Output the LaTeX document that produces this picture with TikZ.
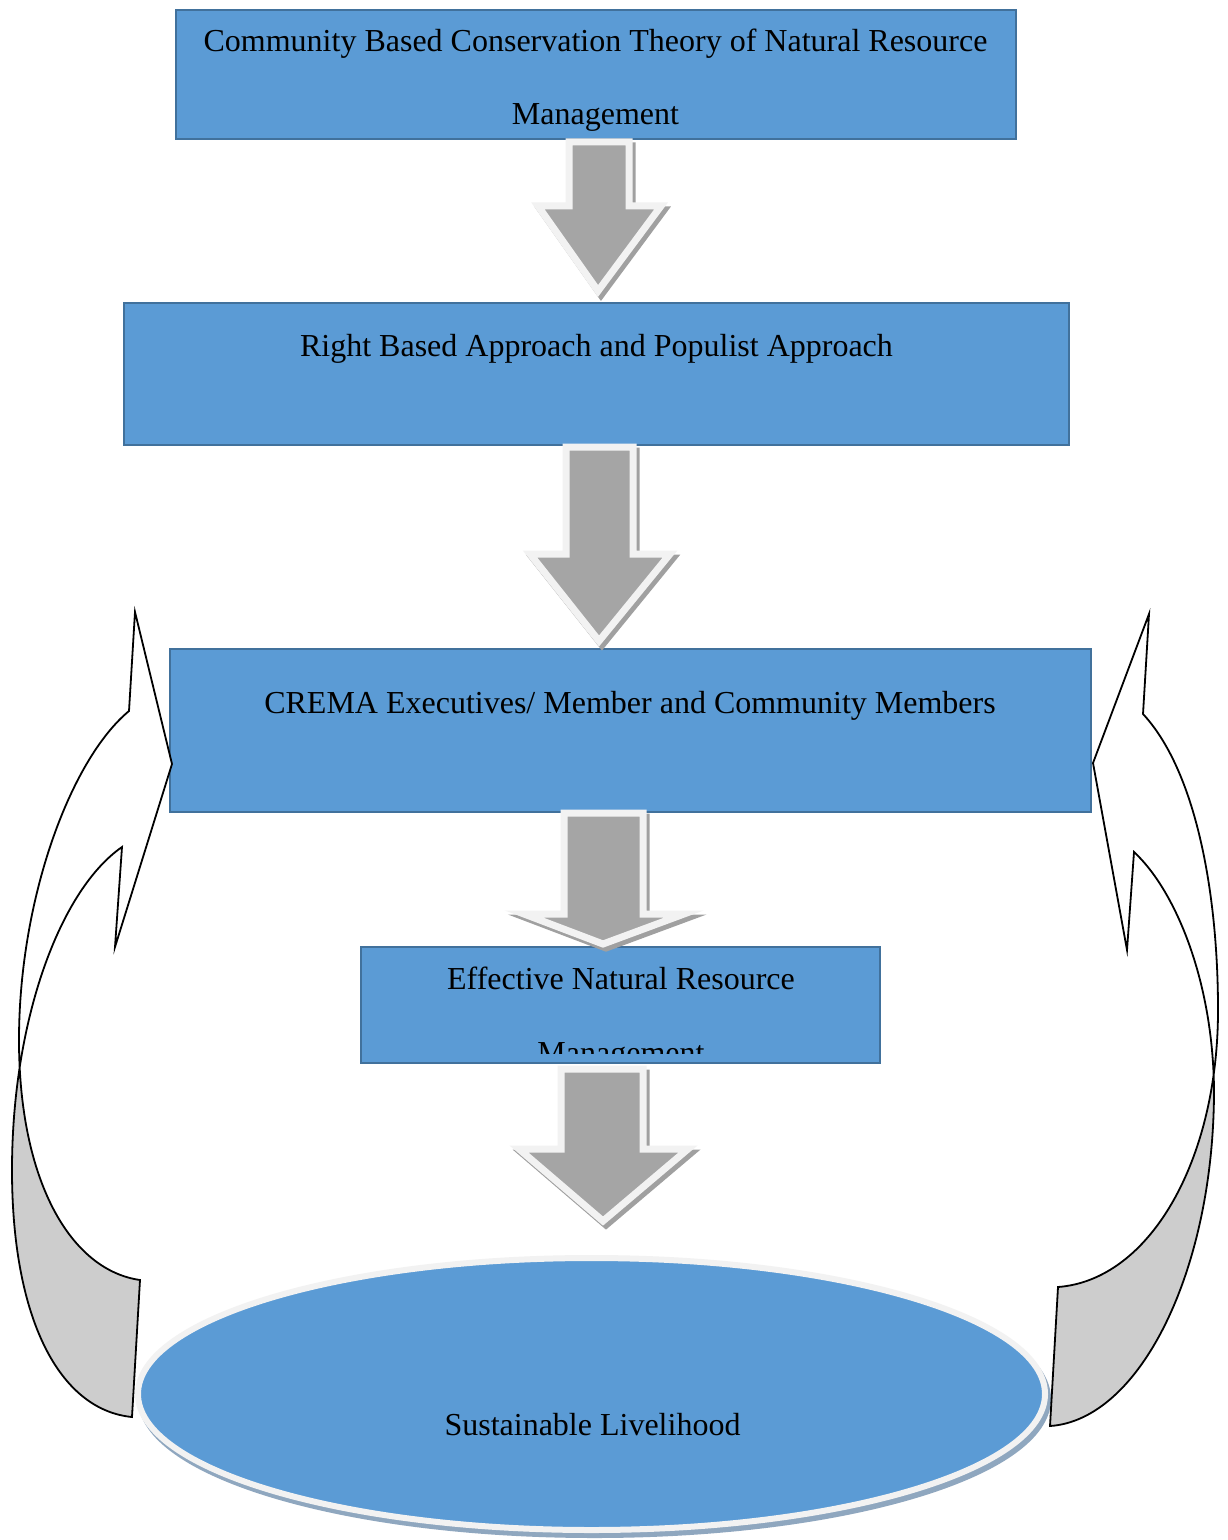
\documentclass[tikz,border=0pt]{standalone}
\usepackage{fontspec}
\setmainfont{Liberation Serif}
\definecolor{boxfill}{HTML}{5B9BD5}
\definecolor{boxline}{HTML}{41719C}
\definecolor{arrfill}{HTML}{A5A5A5}
\definecolor{arrline}{HTML}{F2F2F2}
\definecolor{arrshadow}{HTML}{A0A0A0}
\definecolor{ellshadow}{HTML}{8FA7BF}
\definecolor{curvegray}{HTML}{CDCDCD}
\newcommand\downblock[8]{%
  \path[arrshade,shift={(3,4)}] (#1,#3) -- (#2,#3) -- (#2,#4) -- (#6,#4) -- (#7,#8) -- (#5,#4) -- (#1,#4) -- cycle;
  \path[arrbody] (#1,#3) -- (#2,#3) -- (#2,#4) -- (#6,#4) -- (#7,#8) -- (#5,#4) -- (#1,#4) -- cycle;}
\newcommand\leftcurve[1]{%
  \path[#1] (129,711) .. controls (70,760) and (19,900) .. (19,1040)
    .. controls (19,1180) and (70,1270) .. (140,1280) -- (132,1417)
    .. controls (60,1410) and (12,1320) .. (12,1170)
    .. controls (12,1020) and (60,890) .. (122,847)
    -- (115,947) -- (172,764) -- (135,612) -- cycle;}
\newcommand\rightcurve[1]{%
  \path[#1] (1143,714) .. controls (1195,770) and (1218,890) .. (1218,1010)
    .. controls (1218,1160) and (1150,1280) .. (1058,1287) -- (1050,1426)
    .. controls (1140,1420) and (1214,1270) .. (1214,1090)
    .. controls (1213,980) and (1175,890) .. (1134,852)
    -- (1127,950) -- (1093,763) -- (1149,614) -- cycle;}
\begin{document}
\begin{tikzpicture}[x=0.5pt,y=-0.5pt,
  box/.style={fill=boxfill,draw=boxline,line width=1.2pt},
  txt/.style={font=\fontsize{16}{19}\selectfont,inner sep=0pt,anchor=base,text=black},
  arrshade/.style={fill=arrshadow,draw=arrshadow,line width=3.5pt,line join=miter},
  arrbody/.style={fill=arrfill,draw=arrline,line width=3.5pt,line join=miter},
  curveline/.style={draw=black,line width=0.9pt,line join=miter}]
\useasboundingbox (0,0) rectangle (1227,1540);
\fill[white] (0,0) rectangle (1227,1540);

% boxes
\path[box] (176,10) rectangle (1016,139);
\path[box] (124,303) rectangle (1069,445);
\path[box] (170,649) rectangle (1091,812);
\path[box] (361,947) rectangle (880,1063);

% ellipse
\path[fill=ellshadow,draw=ellshadow,line width=3pt] (594.5,1399) ellipse [x radius=453.5,y radius=136];
\path[fill=boxfill,draw=arrline,line width=3pt] (591.5,1394) ellipse [x radius=453.5,y radius=136];

% down block arrows
\downblock{569}{629}{142}{206}{538}{661}{598}{291}
\downblock{566}{633}{447}{554}{530}{670}{599}{641}
\downblock{564}{643}{813}{914}{524}{684}{603}{944}
\downblock{561}{643}{1069}{1149}{519}{688}{603}{1221}

% curved arrows
\leftcurve{fill=white,even odd rule}
\begin{scope}
  \clip (0,1058) rectangle (400,1540);
  \leftcurve{fill=curvegray,even odd rule}
\end{scope}
\leftcurve{curveline}
\rightcurve{fill=white,even odd rule}
\begin{scope}
  \clip (900,1074) rectangle (1227,1540);
  \rightcurve{fill=curvegray,even odd rule}
\end{scope}
\rightcurve{curveline}

% texts
\node[txt] (t1a) at (595.5,52) {Community Based Conservation Theory of Natural Resource};
\node[txt] (t1b) at (595.5,125) {Management};
\node[txt] (t2) at (596.5,357) {Right Based Approach and Populist Approach};
\node[txt] (t3) at (630,713) {CREMA Executives/ Member and Community Members};
\node[txt] (t4a) at (621,989) {Effective Natural Resource};
\begin{scope}
  \clip (361,947) rectangle (880,1053);
  \node[txt] (t4b) at (621,1063) {Management};
\end{scope}
\node[txt] (t5) at (592.5,1435) {Sustainable Livelihood};
\end{tikzpicture}
\end{document}
